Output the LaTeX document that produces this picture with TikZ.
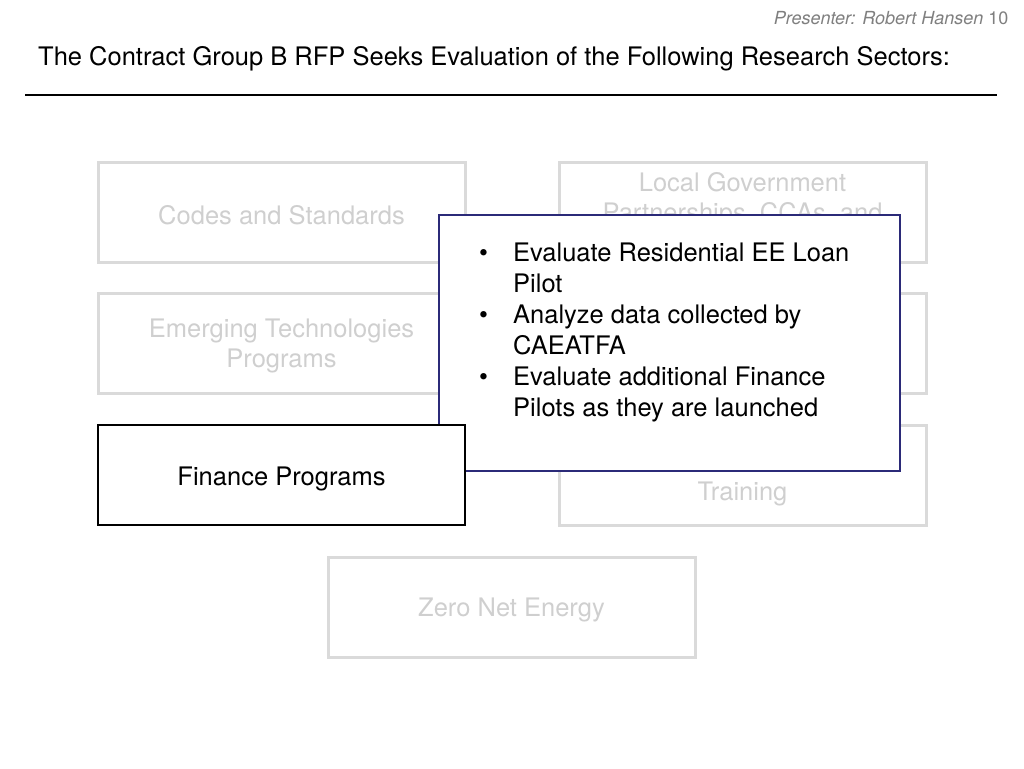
\documentclass[tikz,border=0pt]{standalone}
\usepackage{fontspec}
\setmainfont{TeX Gyre Heros}
\usetikzlibrary{positioning}

\definecolor{fadedline}{HTML}{DADADA}
\definecolor{fadedtext}{HTML}{CFCFCF}
\definecolor{popline}{HTML}{2B2A78}
\definecolor{headgray}{HTML}{7F7F7F}

\tikzset{
	sector/.style={draw=fadedline, line width=3pt, minimum width=367pt, minimum height=100pt, inner sep=0pt},
	fadedlabel/.style={align=center, inner sep=0pt, text=fadedtext, font=\fontsize{25.5}{30}\selectfont},
	current/.style={sector, draw=black, line width=2.5pt, fill=white},
	currentlabel/.style={fadedlabel, text=black},
	popup/.style={draw=popline, line width=2.5pt, fill=white, minimum width=461pt, minimum height=256pt, inner sep=0pt},
	bullets/.style={inner sep=0pt, font=\fontsize{25.5}{31}\selectfont},
}

\begin{document}
\begin{tikzpicture}[x=1pt, y=-1pt]
			\useasboundingbox (0,0) rectangle (1024,768);

			\node [anchor=base east, text=headgray, font=\fontsize{18}{21}\selectfont] (presenter) at (1012,25) {\itshape Presenter: Robert Hansen\upshape{} 10};
			\node [anchor=base west, inner sep=0pt, font=\fontsize{25.5}{30}\selectfont] (title) at (38,65) {The Contract Group B RFP Seeks Evaluation of the Following Research Sectors:};
			\draw [line width=2.5pt] (25,95) -- (997,95);

			\node [sector] (codes) at (281.5,212) {};
			\node [sector] (localgov) at (742.5,212) {};
			\node [sector] (emerging) at (281.5,343) {};
			\node [sector] (hidden) at (742.5,343) {};
			\node [sector] (training) at (742.5,475) {};
			\node [sector] (zne) at (511.5,607) {};

			\node [fadedlabel] (codeslabel) at (281.5,215) {Codes and Standards};
			\node [fadedlabel] (localgovlabel) at (742.5,200) {Local Government\\Partnerships, CCAs, and};
			\node [fadedlabel] (emerginglabel) at (281.5,346) {Emerging Technologies\\Programs};
			\node [fadedlabel] (traininglabel) at (742.5,494) {Training};
			\node [fadedlabel] (znelabel) at (511.5,610) {Zero Net Energy};

			\node [popup] (details) at (669.5,343) {};
			\node [bullets, anchor=north west] (detailtext) at (479,240) {%
				\begin{tabular}{@{}p{34pt}@{}l@{}}
					\textbullet & Evaluate Residential EE Loan\\
					& Pilot\\
					\textbullet & Analyze data collected by\\
					& CAEATFA\\
					\textbullet & Evaluate additional Finance\\
					& Pilots as they are launched
				\end{tabular}};

			\node [current] (finance) at (281.5,475) {};
			\node [currentlabel] (financelabel) at (281.5,479) {Finance Programs};
		\end{tikzpicture}
\end{document}
